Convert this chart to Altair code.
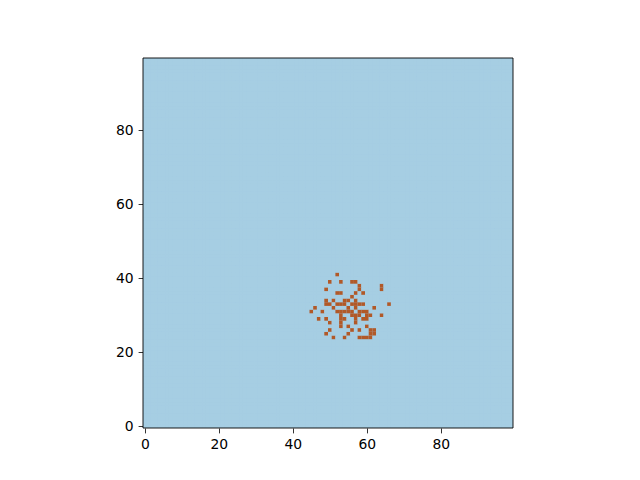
import altair as alt
import pandas as pd

# brown cells, listed by row: row -> columns
row_cols = {
    41: [52],
    39: [50, 53, 56, 57],
    38: [58, 64],
    37: [49, 58, 64],
    36: [52, 53, 57, 59],
    35: [56],
    34: [49, 51, 54, 55, 57],
    33: [49, 50, 52, 53, 54, 56, 57, 58, 59, 66],
    32: [46, 51, 55, 57, 62],
    31: [45, 48, 52, 53, 54, 55, 56, 58, 59, 60],
    30: [53, 56, 57, 58, 60, 61, 64],
    29: [47, 49, 53, 54, 57, 59, 60],
    28: [50, 53, 57],
    27: [53, 55, 60],
    26: [50, 56, 58, 61, 62],
    25: [49, 55, 61, 62],
    24: [51, 54, 58, 59, 60, 61],
}
N = 100
ticks = [0, 20, 40, 60, 80]

on = {(c, r) for r, cs in row_cols.items() for c in cs}
rows = []
for r in range(N):
    for c in range(N):
        rows.append({"x": c - 0.5, "x2": c + 0.5, "y": r - 0.5, "y2": r + 0.5,
                     "v": 1 if (c, r) in on else 0})
df = pd.DataFrame(rows)

axis_kw = dict(values=ticks, title=None, grid=False, tickSize=4.9, tickWidth=0.8,
               labelFontSize=13.9, labelFont="DejaVu Sans", labelColor="black",
               tickColor="black", domain=False, labelPadding=4.9, labelFlush=False)

cells = alt.Chart(df).mark_rect(strokeWidth=0).encode(
    x=alt.X("x:Q", scale=alt.Scale(domain=[-0.5, 99.5], nice=False, zero=False),
            axis=alt.Axis(**axis_kw)),
    x2="x2:Q",
    y=alt.Y("y:Q", scale=alt.Scale(domain=[-0.5, 99.5], nice=False, zero=False),
            axis=alt.Axis(**axis_kw)),
    y2="y2:Q",
    color=alt.Color("v:O", scale=alt.Scale(domain=[0, 1], range=["#a6cee3", "#b15928"]),
                    legend=None),
)

frame = alt.Chart(pd.DataFrame({"k": [0]})).mark_rect(
    fill="transparent", stroke="black", strokeWidth=0.9
).encode(x=alt.value(0), x2=alt.value(370), y=alt.value(0), y2=alt.value(370))

chart = alt.layer(cells, frame).properties(
    width=370, height=370,
    autosize=alt.AutoSizeParams(type="none"),
    padding={"left": 135, "top": 50, "right": 100, "bottom": 50},
).configure_view(fill="#a6cee3", stroke=None)

chart.save("out.html", embed_options={"renderer": "svg", "actions": False})
